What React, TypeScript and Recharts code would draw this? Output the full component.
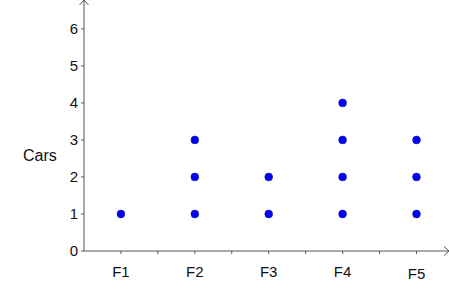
import React from 'react';
import { ScatterChart, Scatter, XAxis, YAxis, Label } from 'recharts';

const categories = ['F1', 'F2', 'F3', 'F4', 'F5'];
const counts = [1, 3, 2, 4, 3];
const yTicks = [0, 1, 2, 3, 4, 5, 6];
const yLabel = 'Cars';

// category k sits at position k + 0.5 on the numeric x axis
const points: { x: number; y: number }[] = [];
categories.forEach((_, i) => {
  for (let v = 1; v <= counts[i]; v++) points.push({ x: i + 0.5, y: v });
});
const xTicks: number[] = [];
for (let t = 0.5; t <= 4.5; t += 0.5) xTicks.push(t);

const AXIS = '#555';
const FONT = 'Arial, "Liberation Sans", sans-serif';

const Dot = (props: any) => {
  const { cx, cy } = props;
  return <circle cx={cx} cy={cy} r={3.9} fill="#0000ff" stroke="#1a1a80" strokeWidth={0.6} />;
};

const XTick = (props: any) => {
  const { x, y, payload } = props;
  const i = payload.value - 0.5;
  if (!Number.isInteger(i)) return null;
  const extra = i === categories.length - 1 ? 2 : 0;
  return (
    <text x={x} y={y + extra} dy="0.71em" textAnchor="middle" fontSize={15} fontFamily={FONT} fill="#111">
      {categories[i]}
    </text>
  );
};

export default function App() {
  return (
    <div style={{ position: 'absolute', left: 0, top: 0, width: 449, height: 307 }}>
      <svg width={0} height={0} style={{ position: 'absolute' }}>
        <defs>
          <marker id="arrowEnd" markerUnits="userSpaceOnUse" markerWidth={12} markerHeight={12} refX={6} refY={6} orient="auto">
            <path d="M1,1.5 L6,6 L1,10.5" fill="none" stroke={AXIS} strokeWidth={1} />
          </marker>
          <marker id="arrowStart" markerUnits="userSpaceOnUse" markerWidth={12} markerHeight={12} refX={6} refY={6} orient="auto-start-reverse">
            <path d="M1,1.5 L6,6 L1,10.5" fill="none" stroke={AXIS} strokeWidth={1} />
          </marker>
        </defs>
      </svg>
      <ScatterChart width={449} height={307} margin={{ top: 0, right: 0, bottom: 0, left: 0 }} style={{ fontFamily: FONT }}>
        <XAxis
          type="number"
          dataKey="x"
          domain={[0, 4.94]}
          ticks={xTicks}
          allowDataOverflow
          height={56}
          tickSize={3}
          tickMargin={12}
          tickLine={{ stroke: AXIS }}
          axisLine={{ stroke: AXIS, strokeWidth: 1, markerEnd: 'url(#arrowEnd)' }}
          tick={<XTick />}
          interval={0}
        />
        <YAxis
          type="number"
          dataKey="y"
          domain={[0, 6.78]}
          ticks={yTicks}
          allowDataOverflow
          width={84}
          tickSize={3}
          tickMargin={3}
          tickLine={{ stroke: AXIS }}
          axisLine={{ stroke: AXIS, strokeWidth: 1, markerStart: 'url(#arrowStart)' }}
          tick={{ fill: '#111', fontSize: 15, fontFamily: FONT }}
          interval={0}
        >
          <Label
            content={() => (
              <text x={23} y={161} fontSize={16} fontFamily={FONT} fill="#111">
                {yLabel}
              </text>
            )}
          />
        </YAxis>
        <Scatter data={points} shape={Dot} isAnimationActive={false} />
      </ScatterChart>
    </div>
  );
}
